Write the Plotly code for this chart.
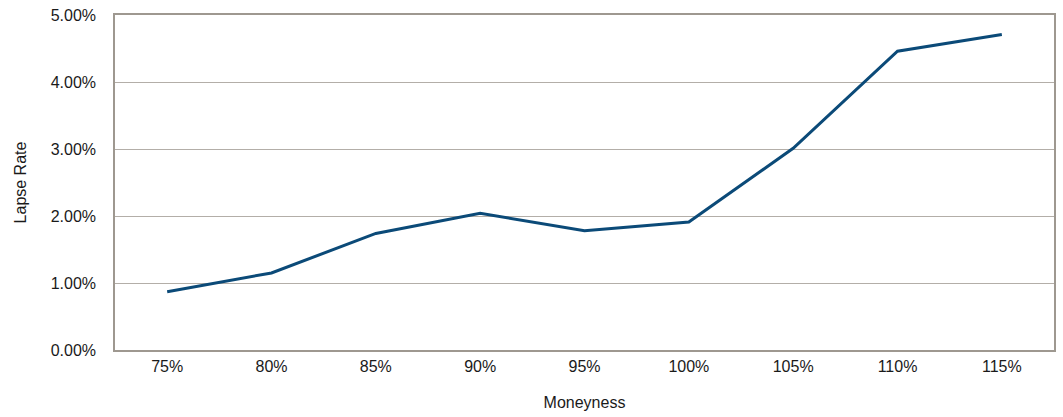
import plotly.graph_objects as go

moneyness = ["75%", "80%", "85%", "90%", "95%", "100%", "105%", "110%", "115%"]
lapse_rate = [0.0087, 0.0115, 0.0174, 0.0204, 0.0178, 0.0191, 0.0301, 0.0446, 0.0471]
y_ticks = [0, 0.01, 0.02, 0.03, 0.04, 0.05]

axis_color = "#9e9890"
grid_color = "#b3aea8"
font = dict(family="Liberation Sans, Arial, sans-serif", size=16, color="#1a1a1a")

fig = go.Figure(
    go.Scatter(
        x=moneyness,
        y=lapse_rate,
        mode="lines",
        line=dict(color="#0b4a78", width=3),
        hoverinfo="x+y",
    )
)

fig.update_layout(
    width=1063,
    height=417,
    margin=dict(l=115, r=7, t=13, b=67),
    paper_bgcolor="white",
    plot_bgcolor="white",
    font=font,
    showlegend=False,
)

fig.update_xaxes(
    type="category",
    range=[-0.5, len(moneyness) - 0.5],
    showgrid=False,
    showline=True,
    linecolor=axis_color,
    linewidth=1.5,
    mirror=True,
    ticks="",
    ticklabelstandoff=1,
    title=dict(text="Moneyness", font=dict(size=16), standoff=23),
)

fig.update_yaxes(
    range=[0, 0.05],
    tickvals=y_ticks,
    tickformat=".2%",
    showgrid=True,
    gridcolor=grid_color,
    gridwidth=1.2,
    showline=True,
    linecolor=axis_color,
    linewidth=1.5,
    mirror=True,
    zeroline=False,
    ticks="",
    ticklabelstandoff=14,
    title=dict(text="Lapse Rate", font=dict(size=16), standoff=20),
)

fig.write_html("out.html")
